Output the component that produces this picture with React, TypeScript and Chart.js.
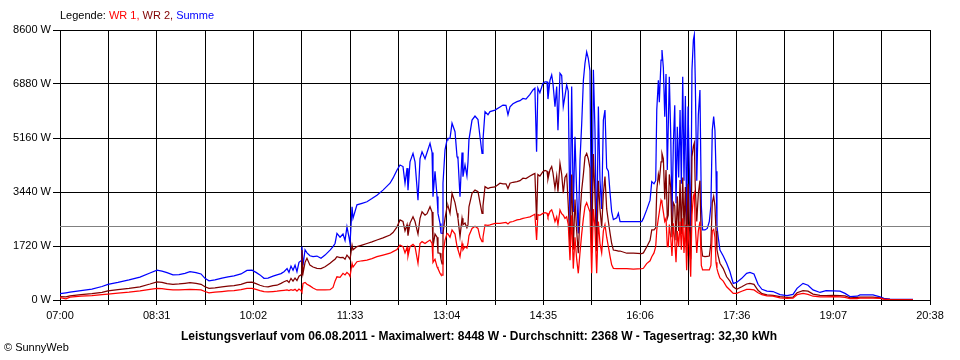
import React, { useEffect, useRef } from 'react';
import { Chart, registerables } from 'chart.js';

Chart.register(...registerables);

// minutes after 07:00
const times = [
  0, 5.6, 9.4, 19.7, 30, 39.5, 45.1, 54.5, 64.9, 75.2, 84.6, 91.2, 95.9, 100.6, 106.2, 111.9, 117.5, 122.2, 127.9, 132.6,
  136.3, 140.1, 145.7, 152.3, 158, 163.6, 170.2, 175.8, 180.5, 184.3, 188, 191.8, 195.6, 200.3, 204, 207.8, 210.6, 213.5, 215.3, 217.2,
  219.1, 221, 222.8, 224.7, 226.6, 227.5, 228.5, 230.4, 232.2, 235, 237.9, 241.6, 245.4, 249.2, 253.9, 256.7, 258.6, 260.4, 263.3, 266.1,
  268, 269.8, 271.7, 272.7, 274.6, 275.5, 279.2, 284, 288.6, 293.3, 298, 303.7, 310.3, 313.1, 316.9, 319.7, 322.5, 324.4, 326.3, 327.2,
  329.1, 331.9, 333.8, 336.6, 338.5, 340.4, 343.2, 345.1, 347.9, 349.8, 350.7, 352.6, 354.5, 355.4, 357.3, 358.2, 359.2, 360.1, 362, 363.9,
  364.8, 366.7, 368.6, 371.4, 373.3, 374.2, 376.1, 378, 378.9, 380.8, 382.6, 383.6, 384.5, 387.4, 390.2, 393, 394.9, 396.8, 397.7, 399.6,
  402.4, 404.3, 409, 413.7, 416.5, 419.3, 421.2, 423.1, 425.9, 429.7, 432.5, 435.3, 438.1, 441.9, 444.7, 446.5, 448.1, 449.3, 451.2, 454,
  456, 457.9, 458.8, 460.7, 462.3, 463.5, 465.4, 467, 468.2, 470.1, 471.7, 473.2, 474.8, 476.4, 477.9, 479.5, 481.1, 482.6, 484.2, 485.8,
  487.3, 488.9, 490.5, 492.1, 493.6, 495.2, 496.7, 498.3, 499.9, 501.5, 503, 504.6, 506.2, 507.7, 509.3, 510.9, 512.4, 514, 515.6, 517.2,
  518.7, 520.3, 523.5, 525, 526.6, 532.9, 539.1, 547, 548.5, 551.6, 554.8, 556.4, 558.5, 560.1, 561.1, 562.6, 563.5, 565.1, 566, 567.3,
  568.6, 569.8, 571, 571.9, 572.9, 574.2, 575.4, 576.7, 578, 579.2, 580.4, 581.7, 583, 584.2, 585.5, 586.7, 588, 589.2, 590.5, 591.7,
  593, 594.2, 595.5, 596.4, 597.3, 598.7, 600.2, 601.7, 603, 604.2, 606.4, 608.6, 610.5, 612, 613.3, 614.6, 615.8, 616.8, 617.7, 618.9,
  620.5, 623.6, 626.8, 629.9, 633, 636.2, 641, 645.6, 648.7, 652.5, 656.3, 660, 664.7, 670.4, 677, 683.6, 689.2, 693, 698.6, 703.3,
  708, 714.6, 720.2, 726.8, 733.4, 738.1, 742.8, 749.4, 752.2, 764.4, 771, 774.7, 780.4, 802,
];

const summe = [
  200, 230, 250, 300, 350, 430, 500, 560, 640, 730, 860, 950, 920, 870, 800, 810, 850, 900, 870, 830,
  690, 610, 640, 700, 740, 770, 830, 940, 950, 880, 800, 690, 700, 760, 800, 840, 900, 1000, 880, 1080,
  950, 1110, 900, 1200, 1250, 1700, 1100, 1600, 1500, 1410, 1380, 1400, 1330, 1430, 1590, 1700, 1800, 2120, 2000, 2100,
  1900, 2330, 2000, 1800, 2970, 2600, 3030, 3080, 3130, 3230, 3340, 3500, 3720, 3880, 4140, 4300, 4250, 3720, 4200, 3500,
  4400, 4670, 4400, 3180, 4500, 4720, 4500, 4700, 4990, 4700, 3290, 4100, 3300, 2760, 2440, 2130, 2120, 3720, 4780, 5100,
  5150, 5150, 5630, 5360, 4570, 4500, 3290, 4700, 3930, 4300, 3950, 4400, 5100, 5730, 5860, 5750, 5200, 4670, 5100, 6000,
  5900, 6000, 6050, 6150, 6210, 6200, 5900, 6150, 6250, 6320, 6350, 6420, 6400, 6550, 6690, 6750, 4720, 6750, 6600, 6900,
  6950, 6950, 6400, 7000, 7170, 6900, 6160, 6800, 5410, 7220, 7150, 6160, 6500, 6850, 6650, 2340, 6800, 2800, 5200, 3400,
  2120, 4460, 5600, 7000, 7540, 7900, 7700, 7300, 1700, 7330, 5410, 1700, 6160, 3820, 2900, 5730, 6050, 4200, 4100, 3400,
  2810, 2560, 2620, 2760, 2500, 2500, 2500, 2500, 2600, 2870, 3180, 3770, 3700, 3800, 6050, 7000, 6300, 7640, 7960, 7400,
  5840, 7200, 4140, 5500, 7110, 5300, 2650, 5000, 6200, 3080, 5520, 3900, 6050, 3700, 7110, 3800, 6500, 2340, 6160, 4200,
  2020, 7330, 8280, 8448, 7000, 3800, 5900, 6690, 3000, 2230, 2230, 2280, 2500, 3000, 5410, 5840, 5400, 4100, 2340, 2000,
  1590, 1400, 1170, 900, 530, 560, 690, 850, 880, 830, 500, 340, 280, 270, 170, 140, 180, 370, 530, 470,
  320, 240, 300, 290, 280, 210, 110, 120, 160, 160, 100, 50, 30, 20,
];

const wr2 = [
  110, 100, 130, 170, 200, 240, 290, 330, 370, 420, 510, 580, 560, 520, 500, 510, 530, 550, 530, 500,
  420, 370, 390, 420, 440, 460, 500, 560, 570, 520, 470, 430, 420, 460, 470, 530, 580, 620, 560, 690,
  600, 700, 620, 760, 800, 1590, 850, 1200, 1330, 1110, 1050, 1010, 1000, 1060, 1170, 1250, 1300, 1380, 1350, 1360,
  1300, 1430, 1350, 1300, 1750, 1600, 1700, 1750, 1800, 1850, 1910, 1980, 2070, 2150, 2330, 2550, 2500, 2200, 2400, 2050,
  2450, 2650, 2500, 2100, 2600, 2810, 2700, 2750, 2970, 2800, 1700, 2100, 2000, 1500, 1490, 1300, 1150, 2120, 2600, 2970,
  3000, 2760, 3400, 3100, 2760, 2600, 2020, 2600, 2400, 2450, 2300, 2400, 2970, 3400, 3500, 3450, 3100, 2760, 3000, 3610,
  3550, 3580, 3600, 3720, 3700, 3700, 3550, 3720, 3750, 3770, 3800, 3880, 3870, 3950, 4000, 4030, 2550, 4000, 3950, 4090,
  4130, 4100, 3850, 4150, 4250, 4050, 3560, 3950, 3450, 4350, 4000, 3400, 3900, 4000, 3000, 1700, 4000, 1600, 3200, 2200,
  1490, 2700, 3500, 4000, 4560, 4670, 4500, 4200, 1500, 4650, 3300, 1550, 3800, 2900, 2300, 3400, 3930, 2900, 2500, 2120,
  1800, 1590, 1570, 1560, 1560, 1490, 1490, 1480, 1500, 1690, 1900, 2230, 2230, 2300, 3500, 4000, 3800, 4400, 4670, 4500,
  3200, 4140, 2600, 2700, 4000, 3600, 2000, 3100, 3000, 1900, 3300, 2200, 3820, 2100, 3900, 2300, 3600, 1400, 3700, 2500,
  1300, 4560, 4900, 5000, 3600, 2500, 3400, 3800, 1700, 1400, 1380, 1390, 1400, 1800, 3100, 3300, 3000, 2200, 1600, 1400,
  1170, 1000, 740, 600, 420, 340, 420, 510, 530, 500, 310, 200, 160, 150, 110, 80, 90, 230, 300, 280,
  190, 150, 140, 150, 140, 130, 70, 80, 90, 90, 70, 30, 20, 5,
];

const wr1 = [
  80, 40, 90, 120, 140, 170, 190, 220, 250, 290, 340, 370, 360, 340, 320, 320, 330, 340, 330, 320,
  270, 230, 250, 270, 290, 300, 330, 370, 370, 340, 300, 265, 260, 270, 280, 300, 310, 320, 300, 330,
  310, 340, 280, 350, 300, 250, 530, 560, 500, 450, 380, 320, 320, 320, 330, 400, 600, 740, 720, 850,
  800, 880, 820, 750, 1170, 1050, 1220, 1250, 1270, 1320, 1380, 1430, 1490, 1540, 1610, 1750, 1700, 1500, 1680, 1400,
  1700, 1770, 1700, 1170, 1800, 1860, 1800, 1850, 1910, 1800, 1200, 1300, 1060, 1000, 850, 800, 790, 1490, 1900, 2120,
  2100, 2000, 2230, 2100, 1700, 1600, 1380, 1800, 1600, 1700, 1650, 1800, 2050, 2280, 2350, 2280, 2000, 1860, 2000, 2390,
  2380, 2390, 2440, 2440, 2460, 2470, 2420, 2480, 2500, 2550, 2570, 2600, 2620, 2650, 2700, 2730, 1910, 2720, 2700, 2760,
  2780, 2760, 2650, 2820, 2870, 2750, 2500, 2650, 2400, 2870, 2750, 2700, 2600, 2650, 2400, 1270, 2700, 1000, 2000, 1300,
  850, 1500, 2100, 2600, 2970, 3100, 2950, 2800, 850, 2900, 2300, 850, 2500, 1800, 1500, 2200, 2400, 2000, 1700, 1380,
  1120, 1010, 1000, 1000, 1000, 1000, 980, 1000, 1010, 1160, 1250, 1380, 1500, 1700, 2230, 2600, 2800, 3180, 3100, 2800,
  2500, 2600, 1700, 1700, 2400, 2000, 1400, 2440, 1900, 1200, 2200, 1700, 2500, 1600, 2600, 1500, 2400, 950, 2400, 1700,
  740, 2700, 3300, 3400, 2400, 1500, 2200, 2500, 1100, 960, 960, 960, 960, 1100, 2200, 2250, 2000, 1200, 1000, 850,
  700, 600, 420, 320, 210, 210, 280, 340, 340, 320, 230, 170, 130, 120, 70, 55, 60, 170, 210, 180,
  120, 100, 100, 110, 100, 85, 40, 45, 60, 60, 50, 25, 15, 5,
];

const seriesNames = ['WR 1', 'WR 2', 'Summe'];
const seriesColors = ['#ff0000', '#800000', '#0000ff'];
const xTickLabels = ['07:00', '08:31', '10:02', '11:33', '13:04', '14:35', '16:06', '17:36', '19:07', '20:38'];
const yTickValues = [0, 1720, 3440, 5160, 6880, 8600];
const averageWatt = 2368;
const xSpanMinutes = 818;
const legendTitle = 'Legende: ';
const footerText = 'Leistungsverlauf vom 06.08.2011 - Maximalwert: 8448 W - Durchschnitt: 2368 W - Tagesertrag: 32,30 kWh';
const copyrightText = '\u00A9 SunnyWeb';

const FONT = '"Liberation Sans", Arial, sans-serif';

export default function App() {
  const ref = useRef<HTMLCanvasElement | null>(null);

  useEffect(() => {
    if (!ref.current) return;
    const seriesData = [wr1, wr2, summe];

    const textPlugin = {
      id: 'sunnyText',
      afterDatasetsDraw(chart: any) {
        const { ctx, chartArea } = chart;
        const y = Math.round(chart.scales.y.getPixelForValue(averageWatt)) + 0.5;
        ctx.save();
        ctx.strokeStyle = '#808080';
        ctx.lineWidth = 1;
        ctx.beginPath();
        ctx.moveTo(chartArea.left, y);
        ctx.lineTo(chartArea.right, y);
        ctx.stroke();
        ctx.restore();
      },
      afterDraw(chart: any) {
        const ctx = chart.ctx;
        ctx.save();
        ctx.textBaseline = 'middle';
        ctx.textAlign = 'left';
        ctx.font = `11px ${FONT}`;
        let x = 60;
        ctx.fillStyle = '#000';
        ctx.fillText(legendTitle, x, 16);
        x += ctx.measureText(legendTitle).width;
        seriesNames.forEach((name, i) => {
          const t = i < seriesNames.length - 1 ? name + ', ' : name;
          ctx.fillStyle = seriesColors[i];
          ctx.fillText(t, x, 16);
          x += ctx.measureText(t).width;
        });
        ctx.fillStyle = '#000';
        ctx.font = `bold 12px ${FONT}`;
        ctx.textAlign = 'center';
        ctx.fillText(footerText, 479, 337);
        ctx.font = `11px ${FONT}`;
        ctx.textAlign = 'left';
        ctx.fillText(copyrightText, 4, 348);
        ctx.restore();
      },
    };

    const chart = new Chart(ref.current, {
      type: 'line',
      data: {
        labels: times,
        datasets: seriesNames.map((name, i) => ({
          label: name,
          data: times.map((t, j) => ({ x: t, y: seriesData[i][j] })),
          borderColor: seriesColors[i],
          backgroundColor: seriesColors[i],
          borderWidth: 1.25,
          pointRadius: 0,
          tension: 0,
          fill: false,
        })),
      },
      options: {
        animation: false,
        responsive: false,
        events: [],
        layout: { padding: { top: 30, right: 30, left: 0, bottom: 0 } },
        plugins: { legend: { display: false }, tooltip: { enabled: false }, title: { display: false } },
        scales: {
          x: {
            type: 'linear',
            min: 0,
            max: xSpanMinutes,
            z: 1,
            afterBuildTicks: (scale: any) => {
              scale.ticks = Array.from({ length: 19 }, (_, i) => ({ value: (i * xSpanMinutes) / 18 }));
            },
            afterFit: (scale: any) => {
              scale.height = 60;
            },
            ticks: {
              autoSkip: false,
              maxRotation: 0,
              minRotation: 0,
              padding: 4,
              color: '#000',
              font: { family: FONT, size: 11 },
              callback: (_v: any, i: number) => (i % 2 === 0 ? xTickLabels[i / 2] : ''),
            },
            grid: { color: '#000', lineWidth: 1, tickLength: 5, drawTicks: true },
            border: { color: '#000', width: 1 },
          },
          y: {
            type: 'linear',
            min: 0,
            max: 8600,
            z: 1,
            afterBuildTicks: (scale: any) => {
              scale.ticks = yTickValues.map((v) => ({ value: v }));
            },
            afterFit: (scale: any) => {
              scale.width = 60;
            },
            ticks: {
              padding: 2,
              color: '#000',
              font: { family: FONT, size: 11 },
              callback: (v: any) => `${v} W`,
            },
            grid: { color: '#000', lineWidth: 1, tickLength: 7, drawTicks: true },
            border: { color: '#000', width: 1 },
          },
        },
      },
      plugins: [textPlugin],
    });
    return () => chart.destroy();
  }, []);

  return (
    <div style={{ position: 'absolute', left: 0, top: 0, width: 960, height: 360, background: '#fff' }}>
      <canvas ref={ref} width={960} height={360} />
    </div>
  );
}
